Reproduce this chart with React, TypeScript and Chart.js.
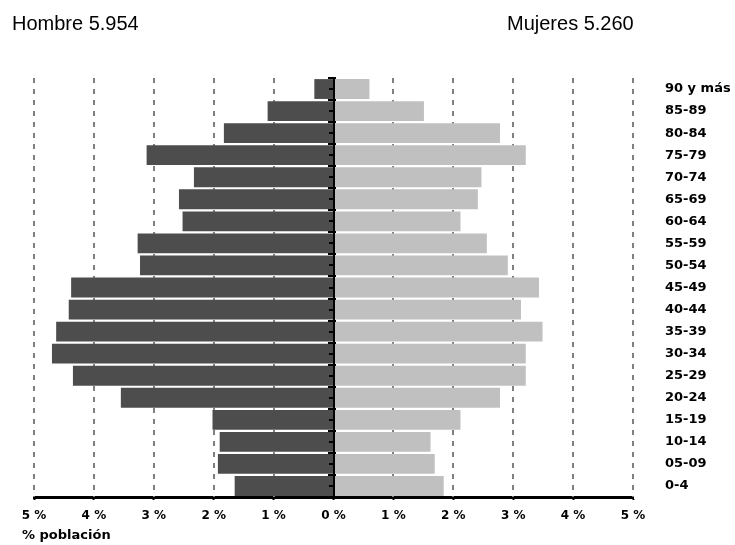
import React, { useEffect, useRef } from "react";
import { Chart, registerables } from "chart.js";

Chart.register(...registerables);

const ageGroups = [
  "90 y más", "85-89", "80-84", "75-79", "70-74", "65-69", "60-64", "55-59", "50-54",
  "45-49", "40-44", "35-39", "30-34", "25-29", "20-24", "15-19", "10-14", "05-09", "0-4",
];
const hombres = [0.32, 1.10, 1.83, 3.12, 2.33, 2.58, 2.52, 3.27, 3.23, 4.38, 4.42, 4.63, 4.70, 4.35, 3.55, 2.02, 1.90, 1.93, 1.65];
const mujeres = [0.60, 1.51, 2.78, 3.21, 2.47, 2.41, 2.12, 2.56, 2.91, 3.43, 3.13, 3.49, 3.21, 3.21, 2.78, 2.12, 1.62, 1.69, 1.84];
const xMin = -5;
const xMax = 5;
const tituloHombres = "Hombre 5.954";
const tituloMujeres = "Mujeres 5.260";
const tituloEje = "% población";

const LABEL_FONT = "'DejaVu Sans', sans-serif";

const overlayPlugin = {
  id: "pyramidOverlay",
  beforeDatasetsDraw(chart: any) {
    const { ctx, chartArea, scales } = chart;
    const xs = scales.x;
    ctx.save();
    ctx.strokeStyle = "#808080";
    ctx.lineWidth = 2;
    ctx.setLineDash([5, 6]);
    ctx.lineDashOffset = 0;
    for (const t of xs.ticks) {
      if (t.value === 0) continue;
      const px = Math.round(xs.getPixelForValue(t.value));
      ctx.beginPath();
      ctx.moveTo(px, chartArea.top);
      ctx.lineTo(px, chartArea.bottom);
      ctx.stroke();
    }
    ctx.restore();
  },
  afterDatasetsDraw(chart: any) {
    const { ctx, chartArea, scales } = chart;
    const xs = scales.x;
    const ys = scales.y;
    const x0 = Math.round(xs.getPixelForValue(0));
    ctx.save();
    ctx.fillStyle = "#000";
    ctx.fillRect(x0 - 1, chartArea.top, 2, chartArea.bottom - chartArea.top);
    const n = ageGroups.length;
    const band = (chartArea.bottom - chartArea.top) / n;
    for (let i = 0; i < n; i++) {
      const yc = ys.getPixelForValue(i);
      const yb = Math.round(yc - band / 2);
      ctx.fillRect(x0 - 6, yb - 1, 8, 2);
      ctx.fillRect(x0 - 5, Math.round(yc) - 1, 5, 2);
    }
    ctx.restore();
  },
  afterDraw(chart: any) {
    const { ctx } = chart;
    ctx.save();
    ctx.fillStyle = "#000";
    ctx.textBaseline = "alphabetic";
    ctx.textAlign = "left";
    ctx.font = "20px 'Liberation Sans', Arial, sans-serif";
    ctx.fillText(tituloHombres, 12, 30);
    ctx.fillText(tituloMujeres, 507, 30);
    ctx.font = "bold 13px " + LABEL_FONT;
    ctx.textBaseline = "middle";
    ctx.fillText(tituloEje, 22, 536);
    ctx.restore();
  },
};

export default function App() {
  const canvasRef = useRef<HTMLCanvasElement | null>(null);

  useEffect(() => {
    document.body.style.margin = "0";
    const canvas = canvasRef.current;
    if (!canvas) return;
    const chart = new Chart(canvas, {
      type: "bar",
      data: {
        labels: ageGroups,
        datasets: [
          {
            label: "Hombres",
            data: hombres.map((v) => -v),
            backgroundColor: "#4d4d4d",
            borderWidth: 0,
            barPercentage: 0.9,
            categoryPercentage: 1.0,
          },
          {
            label: "Mujeres",
            data: mujeres,
            backgroundColor: "#c0c0c0",
            borderWidth: 0,
            barPercentage: 0.9,
            categoryPercentage: 1.0,
          },
        ],
      },
      options: {
        indexAxis: "y",
        animation: false,
        responsive: false,
        maintainAspectRatio: false,
        layout: { padding: { top: 78, left: 34, right: 0, bottom: 0 } },
        plugins: {
          legend: { display: false },
          title: { display: false },
          tooltip: { enabled: false },
        },
        scales: {
          x: {
            type: "linear",
            min: xMin,
            max: xMax,
            stacked: true,
            afterFit: (scale: any) => {
              scale.height = 48;
            },
            ticks: {
              stepSize: 1,
              color: "#000",
              padding: 9,
              font: { family: LABEL_FONT, size: 12, weight: "bold" },
              callback: (v: any) => Math.abs(Number(v)) + " %",
              maxRotation: 0,
            },
            grid: {
              drawOnChartArea: false,
              drawTicks: true,
              tickLength: 3,
              tickColor: "#000",
              tickWidth: 2,
              color: "#000",
            },
            border: { display: true, color: "#000", width: 3 },
          },
          y: {
            type: "category",
            position: "right",
            stacked: true,
            afterFit: (scale: any) => {
              scale.width = 102;
            },
            grid: { display: false, drawTicks: false },
            border: { display: false },
            ticks: {
              color: "#000",
              padding: 32,
              font: { family: LABEL_FONT, size: 13, weight: "bold" },
            },
          },
        },
      },
      plugins: [overlayPlugin],
    });
    return () => chart.destroy();
  }, []);

  return (
    <div style={{ position: "relative", width: 735, height: 545 }}>
      <canvas ref={canvasRef} width={735} height={545} style={{ display: "block" }} />
    </div>
  );
}
